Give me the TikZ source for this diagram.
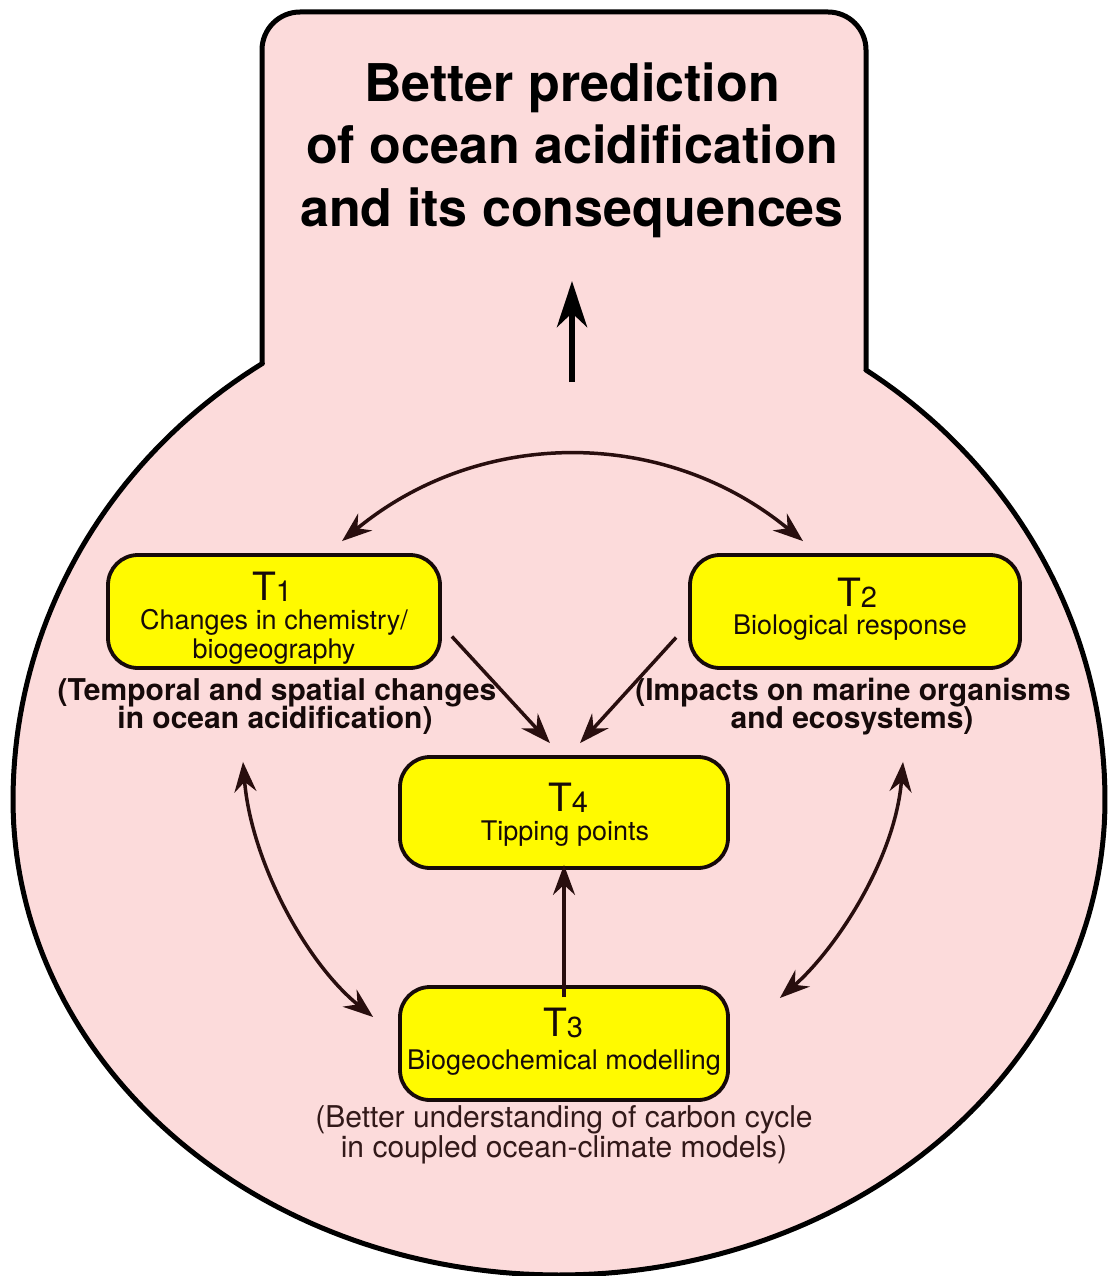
\documentclass[tikz,border=0pt]{standalone}
\usepackage{fontspec}
\setmainfont{TeX Gyre Heros}
\usetikzlibrary{arrows.meta}
\definecolor{pinkfill}{RGB}{252,219,219}
\definecolor{boxyellow}{RGB}{255,250,0}
\definecolor{arrowcol}{RGB}{40,14,14}
\definecolor{textcol}{RGB}{22,10,10}
\definecolor{captcol}{RGB}{50,25,25}
\newcommand\tnum[1]{{\fontsize{29}{29}\selectfont\raisebox{-1pt}{#1}}}
\begin{document}
\begin{tikzpicture}[x=1pt,y=-1pt,
  outline/.style={draw=black, line width=5pt, fill=pinkfill, line join=round},
  tbox/.style={draw=textcol, line width=3.8pt, fill=boxyellow, rounded corners=30pt, inner sep=0pt},
  tlab/.style={anchor=base, inner sep=0pt, text=textcol, font=\fontsize{39}{39}\selectfont},
  tsub/.style={anchor=base, inner sep=0pt, text=textcol, font=\fontsize{27}{27}\selectfont},
  bcap/.style={anchor=base, inner sep=0pt, text=textcol, font=\fontsize{30}{30}\selectfont\bfseries},
  rcap/.style={anchor=base, inner sep=0pt, text=captcol, font=\fontsize{30}{30}\selectfont},
  ttl/.style={anchor=base, inner sep=0pt, text=black, font=\fontsize{52}{52}\selectfont\bfseries},
  conn/.style={draw=arrowcol, line width=3.5pt, -{Stealth[length=30pt,width=22pt,inset=10pt]}},
  dconn/.style={draw=arrowcol, line width=3.5pt, {Stealth[length=30pt,width=22pt,inset=10pt]}-{Stealth[length=30pt,width=22pt,inset=10pt]}},
  bigconn/.style={draw=black, line width=6.5pt, -{Stealth[length=46pt,width=30pt,inset=14pt]}}
]
\useasboundingbox (0,0) rectangle (1114,1276);

% outer shape
\draw[outline] (262,364) [rounded corners=38pt] -- (262,12) -- (866,12) [sharp corners] -- (866,370)
  -- plot[domain=-55.8:237.1, samples=240, variable=\t]
     ({559+546*cos(\t)}, {800+sin(\t)*(sin(\t)>0 ? 475 : 520)}) -- cycle;

% title
\node[ttl] (title1) at (572,102) {Better prediction};
\node[ttl] (title2) at (572,164) {of ocean acidification};
\node[ttl] (title3) at (572,226) {and its consequences};

% up arrow
\coordinate (uptail) at (572,382);
\coordinate (uptip) at (572,281);
\draw[bigconn] (uptail) -- (uptip);

% boxes
\node[tbox, minimum width=332pt, minimum height=113pt] (t1) at (274,611.5) {};
\node[tbox, minimum width=330pt, minimum height=113pt] (t2) at (855,611.5) {};
\node[tbox, minimum width=328pt, minimum height=111pt] (t4) at (564,812.5) {};
\node[tbox, minimum width=328pt, minimum height=113pt] (t3) at (564,1043.5) {};

% box texts
\node[tlab] (t1lab) at (272,600) {T\tnum{1}};
\node[tsub] (t1a) at (274,629) {Changes in chemistry/};
\node[tsub] (t1b) at (274,658) {biogeography};

\node[tlab] (t2lab) at (857,606) {T\tnum{2}};
\node[tsub] (t2a) at (850,634) {Biological response};

\node[tlab] (t4lab) at (568,811) {T\tnum{4}};
\node[tsub] (t4a) at (565,840) {Tipping points};

\node[tlab] (t3lab) at (563,1036) {T\tnum{3}};
\node[tsub] (t3a) at (564,1069) {Biogeochemical modelling};

% captions
\node[bcap] (c1a) at (277,700) {(Temporal and spatial changes};
\node[bcap] (c1b) at (275,728) {in ocean acidification)};
\node[bcap] (c2a) at (853,700) {(Impacts on marine organisms};
\node[bcap] (c2b) at (852,728) {and ecosystems)};
\node[rcap] (c3a) at (564,1127) {(Better understanding of carbon cycle};
\node[rcap] (c3b) at (564,1157) {in coupled ocean-climate models)};

% connectors
\draw[dconn] ([shift={(68,-12)}]t1.north) .. controls (480,427) and (665,427) .. ([shift={(-52,-12)}]t2.north);
\draw[conn] ([shift={(10,25)}]t1.east) -- ([shift={(-14,-12)}]t4.north);
\draw[conn] ([shift={(-12,26)}]t2.west) -- ([shift={(16,-12)}]t4.north);
\draw[conn] ([yshift=-12]t3.north) -- ([yshift=5]t4.south);
\draw[dconn] ([shift={(-31,92)}]t1.south) .. controls (251,860) and (305,962) .. ([shift={(-25,-26.5)}]t3.west);
\draw[dconn] ([shift={(48,92)}]t2.south) .. controls (895,860) and (835,950) .. ([shift={(50,-45.5)}]t3.east);
\end{tikzpicture}
\end{document}
